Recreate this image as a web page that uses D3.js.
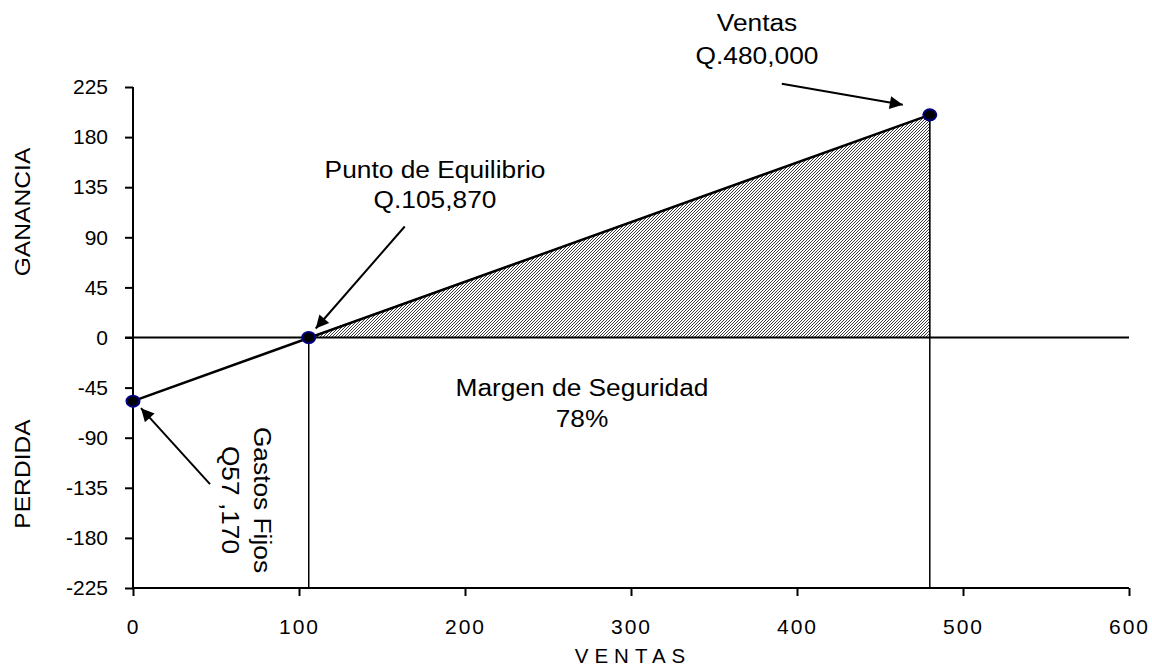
<!DOCTYPE html>
<html>
<head>
<meta charset="utf-8">
<script src="https://cdn.jsdelivr.net/npm/d3@7"></script>
<style>
  html, body { margin: 0; padding: 0; background: #fff; }
  svg { display: block; font-family: "Liberation Sans", Arial, sans-serif; }
</style>
</head>
<body>
<svg id="chart" width="1152" height="668"></svg>
<script>
// ---- data ----
const ventas   = [0, 105.87, 480];          // miles de Q
const ganancia = [-57.17, 0, 200];          // miles de Q
const xTicks = [0, 100, 200, 300, 400, 500, 600];
const yTicks = [-225, -180, -135, -90, -45, 0, 45, 90, 135, 180, 225];
const etiquetaVentas = ["Ventas", "Q.480,000"];
const etiquetaEquilibrio = ["Punto de Equilibrio", "Q.105,870"];
const etiquetaMargen = ["Margen de Seguridad", "78%"];
const etiquetaGastos = ["Gastos Fijos", "Q57 ,170"];

const svg = d3.select("#chart");
const x = d3.scaleLinear().domain([0, 600]).range([133, 1129]);
const y = d3.scaleLinear().domain([-225, 225]).range([588, 87]);

const pts = ventas.map((v, i) => ({ v, g: ganancia[i] }));
const [pFijo, pEq, pVen] = pts;

// hatch pattern
const defs = svg.append("defs");
const pat = defs.append("pattern")
  .attr("id", "hatch").attr("patternUnits", "userSpaceOnUse")
  .attr("width", 3).attr("height", 3);
pat.append("rect").attr("width", 3).attr("height", 3).attr("fill", "#fff");
pat.append("path").attr("d", "M-1,1 l2,-2 M0,3 l3,-3 M2,4 l2,-2")
  .attr("stroke", "#3c3c3c").attr("stroke-width", 1);

defs.append("marker").attr("id", "arrow")
  .attr("viewBox", "0 0 10 10").attr("refX", 10).attr("refY", 5)
  .attr("markerWidth", 17).attr("markerHeight", 13)
  .attr("markerUnits", "userSpaceOnUse")
  .attr("orient", "auto")
  .append("path").attr("d", "M0,0 L10,5 L0,10 z").attr("fill", "#000");

// hatched margin area
svg.append("path")
  .datum([{ v: pEq.v, g: 0 }, pVen, { v: pVen.v, g: 0 }])
  .attr("d", d3.line().x(d => x(d.v)).y(d => y(d.g)).curve(d3.curveLinearClosed))
  .attr("fill", "url(#hatch)").attr("stroke", "#444").attr("stroke-width", 1);

// zero line
svg.append("line")
  .attr("x1", x(0) - 8).attr("x2", x(600))
  .attr("y1", y(0)).attr("y2", y(0))
  .attr("stroke", "#000").attr("stroke-width", 2);

// vertical lines at break-even and sales
[pEq, pVen].forEach(p => {
  svg.append("line")
    .attr("x1", x(p.v)).attr("x2", x(p.v))
    .attr("y1", y(p.g)).attr("y2", y(-225))
    .attr("stroke", "#000").attr("stroke-width", 1.5);
});

// axes
const yAxis = svg.append("g").attr("transform", `translate(${x(0)},0)`)
  .call(d3.axisLeft(y).tickValues(yTicks).tickSize(8).tickPadding(17).tickFormat(d => String(d)));
const xAxis = svg.append("g").attr("transform", `translate(0,${y(-225)})`)
  .call(d3.axisBottom(x).tickValues(xTicks).tickSize(8).tickPadding(23).tickFormat(d => String(d)));
[yAxis, xAxis].forEach(a => {
  a.select(".domain").attr("stroke", "#000").attr("stroke-width", 2);
  a.selectAll(".tick line").attr("stroke", "#000").attr("stroke-width", 2);
  a.selectAll("text").attr("fill", "#000").attr("font-family", "Liberation Sans, Arial, sans-serif");
});
yAxis.selectAll("text").attr("font-size", 21);
xAxis.selectAll("text").attr("font-size", 21).attr("letter-spacing", 2);
xAxis.select(".domain").attr("d", `M${x(0)},0H${x(600)}`);
yAxis.select(".domain").attr("d", `M0,${y(-225)}V${y(225)}`);

// profit line
svg.append("path").datum([pFijo, pVen])
  .attr("d", d3.line().x(d => x(d.v)).y(d => y(d.g)))
  .attr("stroke", "#000").attr("stroke-width", 2.5).attr("fill", "none");

// points
svg.selectAll("ellipse.pt").data(pts).join("ellipse")
  .attr("class", "pt")
  .attr("cx", d => x(d.v)).attr("cy", d => y(d.g))
  .attr("rx", 6.5).attr("ry", 5.5)
  .attr("fill", "#000").attr("stroke", "#000080").attr("stroke-width", 2);

// arrows (offsets relative to the annotated point)
function arrow(p, sx, sy, tx, ty) {
  const px = x(p.v), py = y(p.g);
  svg.append("line")
    .attr("x1", px + sx).attr("y1", py + sy)
    .attr("x2", px + tx).attr("y2", py + ty)
    .attr("stroke", "#000").attr("stroke-width", 2)
    .attr("marker-end", "url(#arrow)");
}
arrow(pVen, -148, -31, -27, -10);
arrow(pEq, 96, -111, 7, -9);
arrow(pFijo, 77, 83, 8, 7);

// annotation text (slightly stretched horizontally like the original)
function label(lines, cx, by, size, gap, sx) {
  lines.forEach((t, i) => {
    svg.append("text")
      .attr("transform", `translate(${cx},${by + i * gap}) scale(${sx},1)`)
      .attr("text-anchor", "middle").attr("font-size", size).attr("fill", "#000")
      .text(t);
  });
}
label(etiquetaVentas, 757, 31, 23.5, 33, 1.12);
label(etiquetaEquilibrio, 435, 178, 23.5, 30, 1.12);
label(etiquetaMargen, 582, 396, 23.5, 31, 1.12);

// rotated Gastos Fijos
etiquetaGastos.forEach((t, i) => {
  svg.append("text")
    .attr("transform", `translate(${254 - i * 32},500) rotate(90) scale(1.12,1)`)
    .attr("text-anchor", "middle").attr("font-size", 23.5).attr("fill", "#000")
    .text(t);
});

// axis titles
svg.append("text").attr("transform", "translate(30,212) rotate(-90) scale(1.12,1)")
  .attr("text-anchor", "middle").attr("font-size", 22).text("GANANCIA");
svg.append("text").attr("transform", "translate(30,474) rotate(-90) scale(1.12,1)")
  .attr("text-anchor", "middle").attr("font-size", 22).text("PERDIDA");
svg.append("text").attr("x", 633).attr("y", 663)
  .attr("text-anchor", "middle").attr("font-size", 20.5).attr("letter-spacing", 6)
  .text("VENTAS");
</script>
</body>
</html>
